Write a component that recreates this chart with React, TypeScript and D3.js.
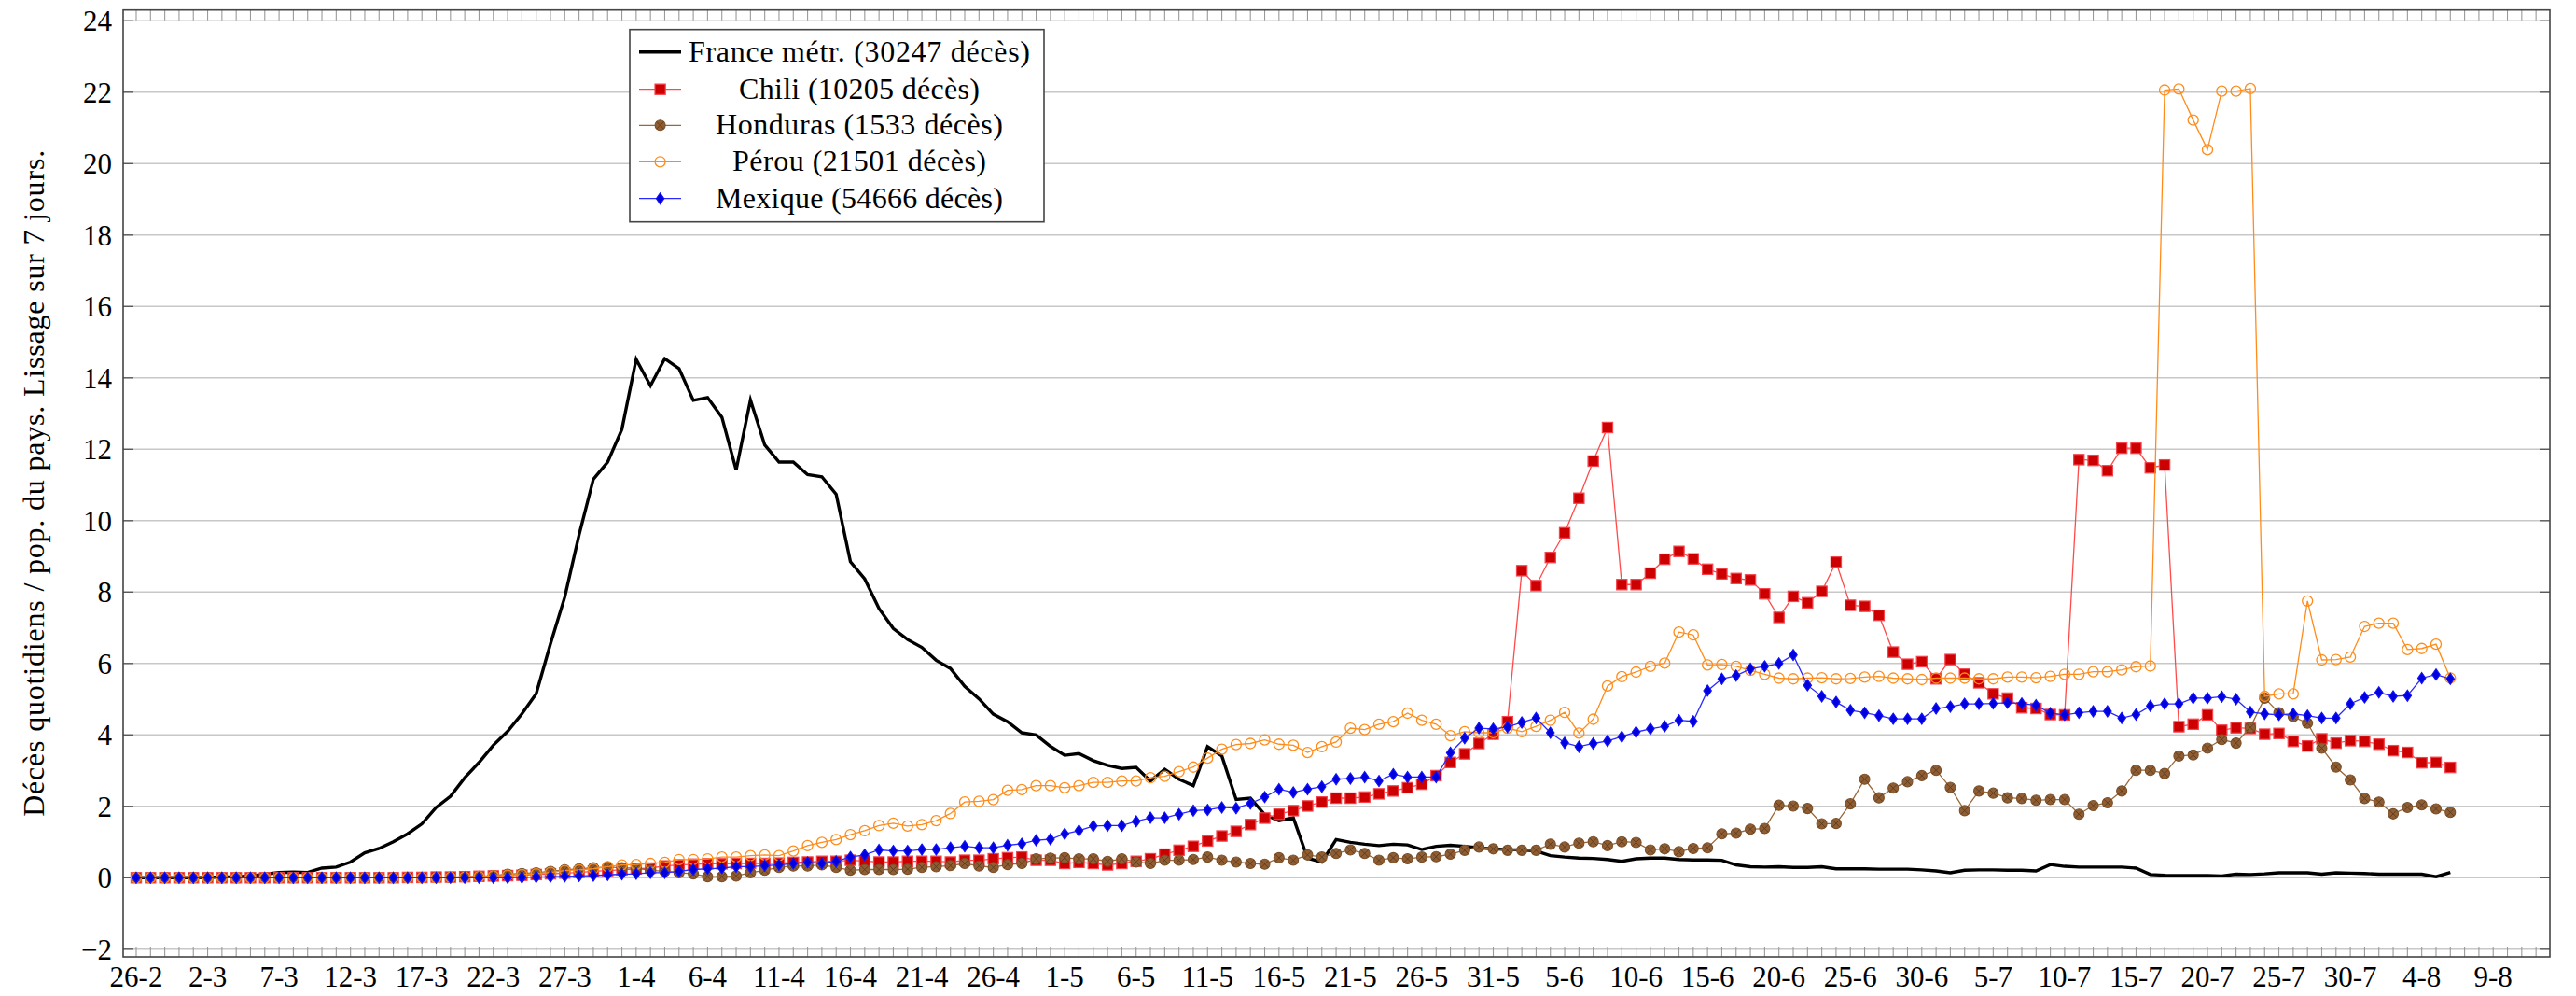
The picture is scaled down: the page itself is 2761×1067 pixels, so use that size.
import * as d3 from "d3";

// one value per day, index 0 = 26-2, last = 6-8
const franceMetr = [
  0, 0, 0, 0, 0, 0.01, 0.02, 0.03, 0.05, 0.1,
  0.15, 0.16, 0.15, 0.27, 0.3, 0.44, 0.7, 0.82, 1.01, 1.23,
  1.51, 1.97, 2.28, 2.8, 3.23, 3.71, 4.1, 4.59, 5.15, 6.55,
  7.86, 9.6, 11.16, 11.64, 12.56, 14.52, 13.78, 14.54, 14.26, 13.37,
  13.45, 12.9, 11.42, 13.38, 12.12, 11.64, 11.64, 11.29, 11.23, 10.74,
  8.85, 8.37, 7.54, 6.98, 6.67, 6.45, 6.09, 5.86, 5.36, 5.01,
  4.58, 4.37, 4.06, 4.0, 3.68, 3.43, 3.48, 3.28, 3.15, 3.06,
  3.09, 2.71, 3.04, 2.76, 2.58, 3.67, 3.41, 2.19, 2.23, 1.77,
  1.6, 1.68, 0.55, 0.44, 1.07, 0.99, 0.94, 0.9, 0.94, 0.92,
  0.79, 0.88, 0.91, 0.88, 0.84, 0.81, 0.79, 0.78, 0.75, 0.62,
  0.58, 0.55, 0.54, 0.51, 0.46, 0.53, 0.55, 0.55, 0.51, 0.5,
  0.5, 0.49, 0.36, 0.31, 0.3, 0.31, 0.29, 0.29, 0.31, 0.25,
  0.25, 0.25, 0.24, 0.24, 0.24, 0.22, 0.19, 0.14, 0.21, 0.22,
  0.22, 0.21, 0.21, 0.19, 0.37, 0.32, 0.3, 0.3, 0.3, 0.3,
  0.27, 0.09, 0.07, 0.06, 0.06, 0.06, 0.05, 0.1, 0.09, 0.11,
  0.14, 0.14, 0.14, 0.1, 0.14, 0.13, 0.12, 0.1, 0.1, 0.1,
  0.1, 0.03, 0.15,
];

const chili = [
  0, 0, 0, 0, 0, 0, 0, 0, 0, 0,
  0, 0, 0, 0, 0, 0, 0, 0, 0, 0.01,
  0.01, 0.02, 0.02, 0.03, 0.04, 0.05, 0.06, 0.07, 0.09, 0.11,
  0.13, 0.15, 0.18, 0.2, 0.22, 0.25, 0.27, 0.33, 0.36, 0.38,
  0.39, 0.39, 0.4, 0.4, 0.4, 0.41, 0.43, 0.44, 0.46, 0.46,
  0.49, 0.47, 0.44, 0.44, 0.46, 0.46, 0.46, 0.44, 0.49, 0.49,
  0.53, 0.56, 0.58, 0.49, 0.49, 0.4, 0.43, 0.4, 0.36, 0.4,
  0.46, 0.53, 0.66, 0.77, 0.88, 1.03, 1.17, 1.3, 1.49, 1.67,
  1.78, 1.88, 2.01, 2.12, 2.23, 2.23, 2.26, 2.35, 2.43, 2.52,
  2.62, 2.86, 3.23, 3.47, 3.76, 4.02, 4.37, 8.6, 8.18, 8.97,
  9.66, 10.63, 11.67, 12.61, 8.21, 8.21, 8.53, 8.92, 9.14, 8.93,
  8.64, 8.51, 8.38, 8.34, 7.95, 7.29, 7.88, 7.7, 8.02, 8.84,
  7.63, 7.6, 7.35, 6.32, 5.98, 6.05, 5.57, 6.11, 5.7, 5.46,
  5.15, 5.03, 4.76, 4.74, 4.57, 4.56, 11.71, 11.69, 11.4, 12.03,
  12.03, 11.48, 11.56, 4.23, 4.3, 4.56, 4.13, 4.2, 4.18, 4.02,
  4.04, 3.82, 3.69, 3.89, 3.77, 3.84, 3.82, 3.74, 3.56, 3.51,
  3.22, 3.23, 3.09,
];

const honduras = [
  0, 0, 0, 0, 0, 0, 0, 0, 0, 0,
  0, 0, 0, 0, 0, 0, 0, 0, 0, 0,
  0, 0, 0, 0.02, 0.04, 0.06, 0.1, 0.12, 0.14, 0.18,
  0.22, 0.25, 0.28, 0.3, 0.28, 0.27, 0.21, 0.18, 0.14, 0.11,
  0.03, 0.03, 0.05, 0.14, 0.21, 0.29, 0.33, 0.33, 0.36, 0.29,
  0.21, 0.23, 0.23, 0.23, 0.24, 0.29, 0.31, 0.34, 0.4, 0.33,
  0.29, 0.37, 0.4, 0.53, 0.55, 0.56, 0.53, 0.53, 0.46, 0.53,
  0.44, 0.4, 0.49, 0.49, 0.51, 0.58, 0.49, 0.44, 0.4, 0.38,
  0.56, 0.49, 0.64, 0.58, 0.68, 0.78, 0.68, 0.49, 0.56, 0.53,
  0.58, 0.59, 0.66, 0.77, 0.86, 0.81, 0.77, 0.77, 0.77, 0.94,
  0.86, 0.97, 1.01, 0.9, 1.01, 0.99, 0.78, 0.81, 0.73, 0.82,
  0.84, 1.23, 1.25, 1.36, 1.38, 2.03, 2.01, 1.94, 1.51, 1.52,
  2.07, 2.76, 2.24, 2.51, 2.69, 2.86, 3.01, 2.53, 1.88, 2.43,
  2.37, 2.24, 2.22, 2.17, 2.19, 2.19, 1.78, 2.02, 2.1, 2.43,
  3.01, 3.01, 2.92, 3.41, 3.44, 3.63, 3.87, 3.77, 4.21, 5.03,
  4.62, 4.51, 4.33, 3.63, 3.1, 2.74, 2.22, 2.12, 1.79, 1.97,
  2.04, 1.93, 1.83,
];

const perou = [
  0, 0, 0, 0, 0, 0, 0, 0, 0, 0,
  0, 0, 0, 0, 0, 0, 0, 0, 0, 0,
  0, 0, 0.01, 0.02, 0.03, 0.05, 0.07, 0.09, 0.11, 0.15,
  0.2, 0.22, 0.25, 0.31, 0.36, 0.37, 0.4, 0.43, 0.51, 0.51,
  0.53, 0.58, 0.58, 0.62, 0.64, 0.62, 0.75, 0.9, 0.99, 1.07,
  1.21, 1.32, 1.46, 1.53, 1.45, 1.49, 1.6, 1.8, 2.12, 2.14,
  2.19, 2.45, 2.47, 2.58, 2.58, 2.52, 2.58, 2.67, 2.67, 2.71,
  2.71, 2.8, 2.84, 2.97, 3.1, 3.35, 3.6, 3.73, 3.76, 3.86,
  3.74, 3.71, 3.51, 3.67, 3.8, 4.19, 4.15, 4.3, 4.37, 4.61,
  4.41, 4.3, 3.98, 4.09, 4.06, 4.06, 4.19, 4.09, 4.24, 4.41,
  4.63, 4.05, 4.44, 5.37, 5.63, 5.76, 5.92, 6.01, 6.88, 6.8,
  5.96, 5.97, 5.92, 5.81, 5.7, 5.59, 5.57, 5.59, 5.6, 5.57,
  5.58, 5.62, 5.64, 5.59, 5.57, 5.55, 5.59, 5.59, 5.59, 5.57,
  5.57, 5.62, 5.62, 5.6, 5.64, 5.7, 5.7, 5.77, 5.77, 5.82,
  5.91, 5.93, 22.06, 22.09, 21.22, 20.39, 22.03, 22.03, 22.1, 5.08,
  5.15, 5.15, 7.75, 6.1, 6.11, 6.18, 7.04, 7.13, 7.13, 6.39,
  6.42, 6.54, 5.59,
];

const mexique = [
  0, 0, 0, 0, 0, 0, 0, 0, 0, 0,
  0, 0, 0, 0, 0, 0, 0, 0, 0, 0,
  0, 0, 0, 0, 0, 0, 0, 0.01, 0.02, 0.03,
  0.04, 0.05, 0.06, 0.08, 0.1, 0.11, 0.14, 0.14, 0.18, 0.23,
  0.25, 0.27, 0.31, 0.31, 0.34, 0.36, 0.4, 0.43, 0.4, 0.46,
  0.58, 0.64, 0.78, 0.75, 0.75, 0.79, 0.79, 0.84, 0.88, 0.84,
  0.84, 0.91, 0.95, 1.05, 1.08, 1.23, 1.32, 1.45, 1.46, 1.46,
  1.58, 1.68, 1.68, 1.78, 1.88, 1.9, 1.97, 1.95, 2.08, 2.26,
  2.48, 2.39, 2.48, 2.55, 2.76, 2.78, 2.82, 2.71, 2.9, 2.82,
  2.82, 2.82, 3.5, 3.91, 4.19, 4.17, 4.22, 4.35, 4.47, 4.06,
  3.78, 3.67, 3.76, 3.83, 3.95, 4.08, 4.17, 4.24, 4.41, 4.38,
  5.24, 5.57, 5.66, 5.85, 5.92, 6.0, 6.24, 5.39, 5.08, 4.92,
  4.69, 4.62, 4.54, 4.45, 4.45, 4.45, 4.74, 4.79, 4.87, 4.87,
  4.88, 4.9, 4.88, 4.83, 4.61, 4.56, 4.62, 4.66, 4.66, 4.47,
  4.57, 4.81, 4.87, 4.87, 5.03, 5.03, 5.07, 5.0, 4.64, 4.59,
  4.56, 4.59, 4.54, 4.47, 4.47, 4.87, 5.05, 5.19, 5.08, 5.1,
  5.59, 5.69, 5.57,
];

// a label every 5 days from 26-2
const xTickLabels = [
  "26-2", "2-3", "7-3", "12-3", "17-3", "22-3", "27-3", "1-4", "6-4", "11-4",
  "16-4", "21-4", "26-4", "1-5", "6-5", "11-5", "16-5", "21-5", "26-5", "31-5",
  "5-6", "10-6", "15-6", "20-6", "25-6", "30-6", "5-7", "10-7", "15-7", "20-7",
  "25-7", "30-7", "4-8", "9-8",
];
const yTickValues = [-2, 0, 2, 4, 6, 8, 10, 12, 14, 16, 18, 20, 22, 24];
const legendLabels = [
  "France métr. (30247 décès)",
  "Chili (10205 décès)",
  "Honduras (1533 décès)",
  "Pérou (21501 décès)",
  "Mexique (54666 décès)",
];
const yLabel = "Décès quotidiens / pop. du pays. Lissage sur 7 jours.";

const W = 2761;
const H = 1067;
const plot = { left: 132, right: 2733, top: 10.7, bottom: 1025 };
const FONT = "'Liberation Serif', 'DejaVu Serif', serif";

const x = d3.scaleLinear().domain([-0.914, 168.97]).range([plot.left, plot.right]);
const y = d3.scaleLinear().domain([-2.214, 24.303]).range([plot.bottom, plot.top]);

type MarkKind = "none" | "square" | "hatch" | "open" | "diamond";

const series: {
  label: string;
  values: number[];
  color: string;
  width: number;
  mark: MarkKind;
  fill: string;
  edge: string;
  legendW: number;
}[] = [
  { label: legendLabels[0], values: franceMetr, color: "#000000", width: 3.4, mark: "none", fill: "none", edge: "none", legendW: 366 },
  { label: legendLabels[1], values: chili, color: "#ff4a4a", width: 1.3, mark: "square", fill: "#cc0000", edge: "#f5444c", legendW: 258 },
  { label: legendLabels[2], values: honduras, color: "#99683a", width: 1.3, mark: "hatch", fill: "#8f5d33", edge: "#7a4f28", legendW: 308 },
  { label: legendLabels[3], values: perou, color: "#ff8c1a", width: 1.3, mark: "open", fill: "none", edge: "#ff8c1a", legendW: 272 },
  { label: legendLabels[4], values: mexique, color: "#2a2aff", width: 1.3, mark: "diamond", fill: "#0000dd", edge: "#1010ff", legendW: 308 },
];

const SQ = 5.6; // half side of squares
const CR = 5.5; // circle radius

function Marker({ kind, cx, cy, fill, edge }: { kind: MarkKind; cx: number; cy: number; fill: string; edge: string }) {
  if (kind === "square")
    return <rect x={cx - SQ} y={cy - SQ} width={2 * SQ} height={2 * SQ} fill={fill} stroke={edge} strokeWidth={1.2} />;
  if (kind === "open") return <circle cx={cx} cy={cy} r={CR} fill="none" stroke={edge} strokeWidth={1.3} />;
  if (kind === "hatch") {
    const k = CR * 0.68;
    return (
      <g>
        <circle cx={cx} cy={cy} r={CR} fill={fill} stroke={edge} strokeWidth={1.1} />
        <path
          d={`M${cx - k},${cy - k}L${cx + k},${cy + k}M${cx + k},${cy - k}L${cx - k},${cy + k}`}
          stroke="#5c3a1a"
          strokeWidth={0.9}
        />
      </g>
    );
  }
  if (kind === "diamond")
    return (
      <path
        d={`M${cx},${cy - 6}L${cx + 4.2},${cy}L${cx},${cy + 6}L${cx - 4.2},${cy}Z`}
        fill={fill}
        stroke={edge}
        strokeWidth={1.1}
      />
    );
  return null;
}

export default function App() {
  const line = d3
    .line<number>()
    .x((_, i) => x(i))
    .y((d) => y(d));

  const days = d3.range(0, 169);

  const legend = { x: 675, y: 31.7, w: 444, h: 206, rows: [55.7, 95.7, 134.3, 173.3, 212.7] };

  return (
    <>
      <style>{"body{margin:0}"}</style>
      <svg width={W} height={H} style={{ display: "block", background: "#fff" }} fontFamily={FONT}>
        <defs>
          <clipPath id="plotclip">
            <rect x={plot.left} y={plot.top} width={plot.right - plot.left} height={plot.bottom - plot.top} />
          </clipPath>
        </defs>

        {/* grid */}
        {yTickValues.map((v) => (
          <line key={"g" + v} x1={plot.left} x2={plot.right} y1={y(v)} y2={y(v)} stroke="#c8c8c8" strokeWidth={1.4} />
        ))}

        {/* day ticks top and bottom */}
        {days.map((d) => (
          <g key={"t" + d} stroke="#9a9a9a" strokeWidth={1.1}>
            <line x1={x(d)} x2={x(d)} y1={plot.bottom} y2={plot.bottom - 11} />
            <line x1={x(d)} x2={x(d)} y1={plot.top} y2={plot.top + 11} />
          </g>
        ))}

        {/* y ticks */}
        {yTickValues.map((v) => (
          <g key={"yt" + v} stroke="#555" strokeWidth={1.3}>
            <line x1={plot.left} x2={plot.left + 11} y1={y(v)} y2={y(v)} />
            <line x1={plot.right} x2={plot.right - 11} y1={y(v)} y2={y(v)} />
          </g>
        ))}

        {/* series */}
        <g clipPath="url(#plotclip)">
          {series.map((s) => (
            <g key={s.label}>
              <path d={line(s.values) ?? ""} fill="none" stroke={s.color} strokeWidth={s.width} strokeLinejoin="miter" />
              {s.mark !== "none" &&
                s.values.map((v, i) => <Marker key={i} kind={s.mark} cx={x(i)} cy={y(v)} fill={s.fill} edge={s.edge} />)}
            </g>
          ))}
        </g>

        {/* frame */}
        <rect
          x={plot.left}
          y={plot.top}
          width={plot.right - plot.left}
          height={plot.bottom - plot.top}
          fill="none"
          stroke="#444"
          strokeWidth={1.6}
        />

        {/* y tick labels */}
        {yTickValues.map((v) => (
          <text key={"yl" + v} x={120} y={y(v) + 11} textAnchor="end" fontSize={31} fill="#000">
            {v < 0 ? "\u2212" + Math.abs(v) : String(v)}
          </text>
        ))}

        {/* x tick labels */}
        {xTickLabels.map((t, i) => (
          <text key={"xl" + t} x={x(i * 5)} y={1057} textAnchor="middle" fontSize={31} fill="#000">
            {t}
          </text>
        ))}

        {/* y axis title */}
        <text
          transform={`translate(47,${(plot.top + plot.bottom) / 2}) rotate(-90)`}
          textAnchor="middle"
          fontSize={32}
          textLength={714}
          lengthAdjust="spacing"
          fill="#000"
        >
          {yLabel}
        </text>

        {/* legend */}
        <rect x={legend.x} y={legend.y} width={legend.w} height={legend.h} fill="#fff" stroke="#444" strokeWidth={1.6} />
        {series.map((s, i) => {
          const cy = legend.rows[i];
          return (
            <g key={"lg" + i}>
              <line x1={685} x2={730} y1={cy} y2={cy} stroke={s.color} strokeWidth={s.width} />
              <Marker kind={s.mark} cx={707.6} cy={cy} fill={s.fill} edge={s.edge} />
              <text
                x={921}
                y={cy + 10}
                textAnchor="middle"
                fontSize={32}
                textLength={s.legendW}
                lengthAdjust="spacing"
                fill="#000"
              >
                {s.label}
              </text>
            </g>
          );
        })}
      </svg>
    </>
  );
}
